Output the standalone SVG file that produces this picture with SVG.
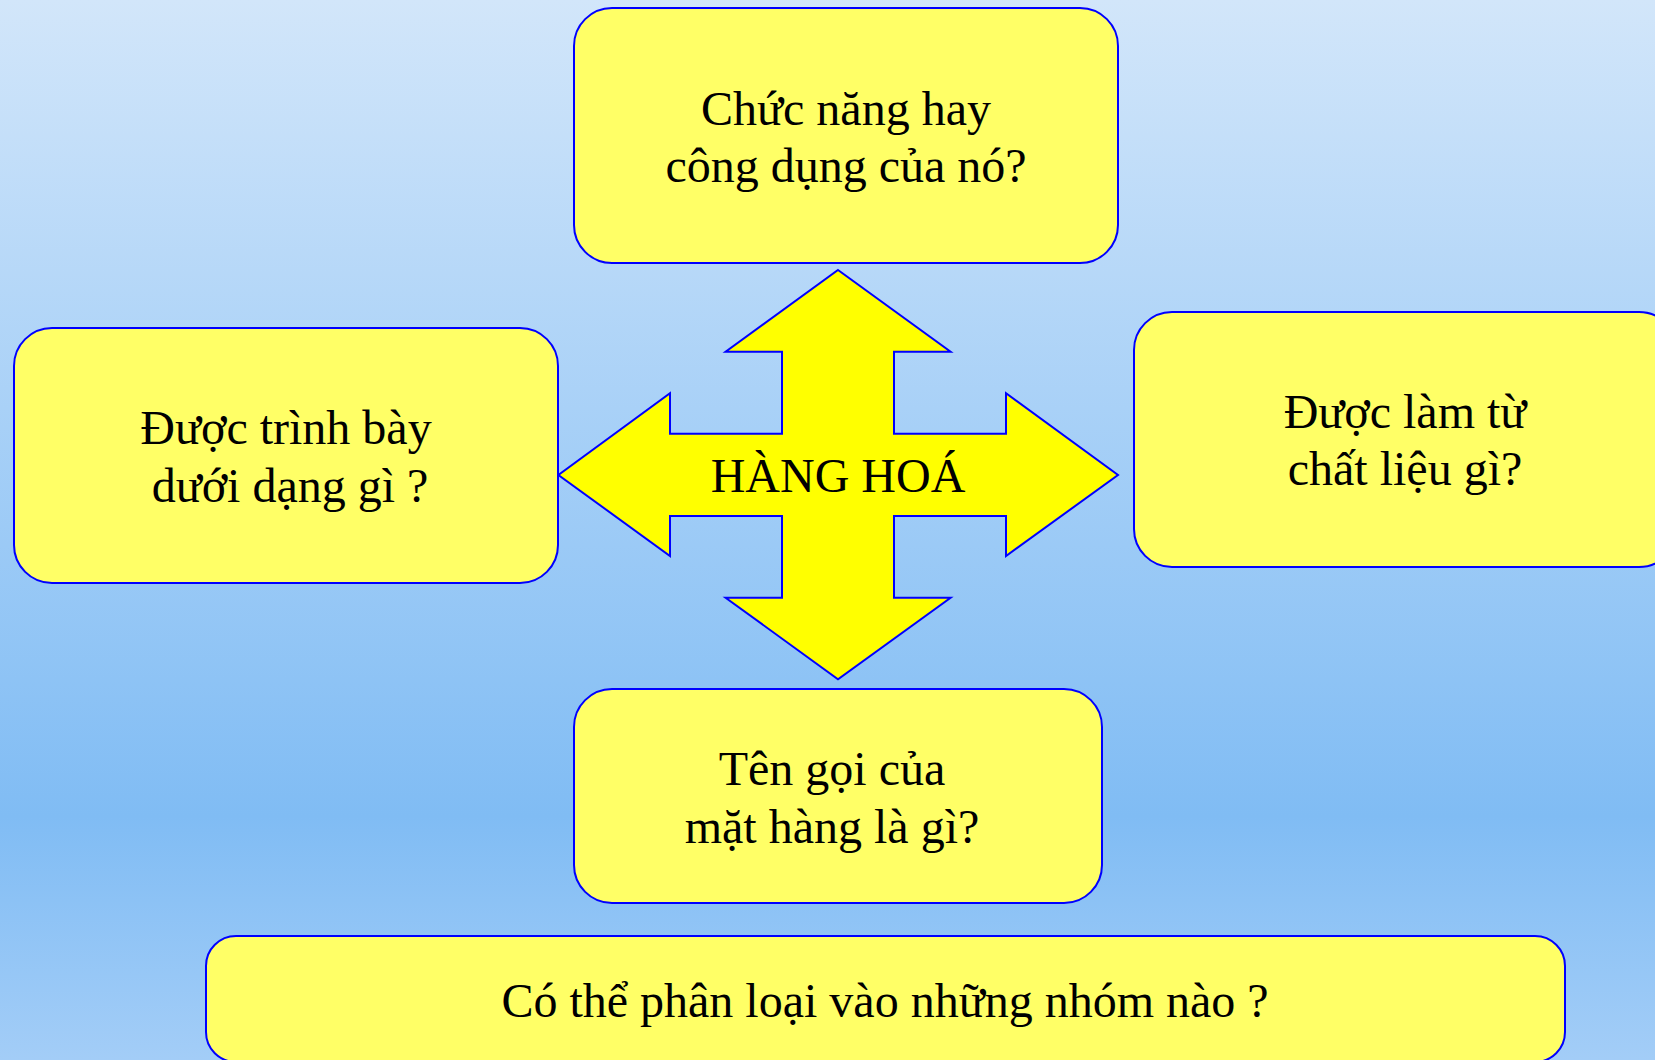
<svg xmlns="http://www.w3.org/2000/svg" width="1655" height="1060" viewBox="0 0 1655 1060">
  <defs>
    <linearGradient id="bg" x1="0" y1="0" x2="0" y2="1">
      <stop offset="0" stop-color="#D2E6FA"/>
      <stop offset="0.77" stop-color="#80BCF4"/>
      <stop offset="1" stop-color="#A3CDF7"/>
    </linearGradient>
    <style>
      .box { fill: #FFFF66; stroke: #0000FF; stroke-width: 2; }
      .arrow { fill: #FFFF00; stroke: #0000FF; stroke-width: 2; stroke-linejoin: miter; }
      .t { font-family: "Liberation Serif", "Times New Roman", serif; font-size: 48px; fill: #000000; text-anchor: middle; }
    </style>
  </defs>
  <rect x="0" y="0" width="1655" height="1060" fill="url(#bg)"/>

  <g id="connectors">
    <polygon class="arrow" points="838,270 950.6,351.7 894,351.7 894,433.7 1006,433.7 1006,393.3 1118,475 1006,556 1006,516 894,516 894,597.7 950.6,597.7 838,679.3 725.6,597.7 782,597.7 782,516 670,516 670,556 558.4,475 670,393.3 670,433.7 782,433.7 782,351.7 725.6,351.7"/>
  </g>

  <g id="node-center">
    <text class="t" x="838" y="492">HÀNG HOÁ</text>
  </g>

  <g id="node-top">
    <rect class="box" x="574" y="8" width="544" height="255" rx="38" ry="38"/>
    <text class="t" x="846" y="125">Chức năng hay</text>
    <text class="t" x="846" y="182">công dụng của nó?</text>
  </g>

  <g id="node-left">
    <rect class="box" x="14" y="328" width="544" height="255" rx="38" ry="38"/>
    <text class="t" x="286" y="444">Được trình bày</text>
    <text class="t" x="290" y="502">dưới dạng gì ?</text>
  </g>

  <g id="node-right">
    <rect class="box" x="1134" y="312" width="543" height="255" rx="38" ry="38"/>
    <text class="t" x="1405" y="428">Được làm từ</text>
    <text class="t" x="1405" y="485">chất liệu gì?</text>
  </g>

  <g id="node-bottom">
    <rect class="box" x="574" y="689" width="528" height="214" rx="38" ry="38"/>
    <text class="t" x="832" y="785">Tên gọi của</text>
    <text class="t" x="832" y="843">mặt hàng là gì?</text>
  </g>

  <g id="node-classify">
    <rect class="box" x="206" y="936" width="1359" height="126" rx="30" ry="30"/>
    <text class="t" x="885" y="1017">Có thể phân loại vào những nhóm nào ?</text>
  </g>
</svg>
